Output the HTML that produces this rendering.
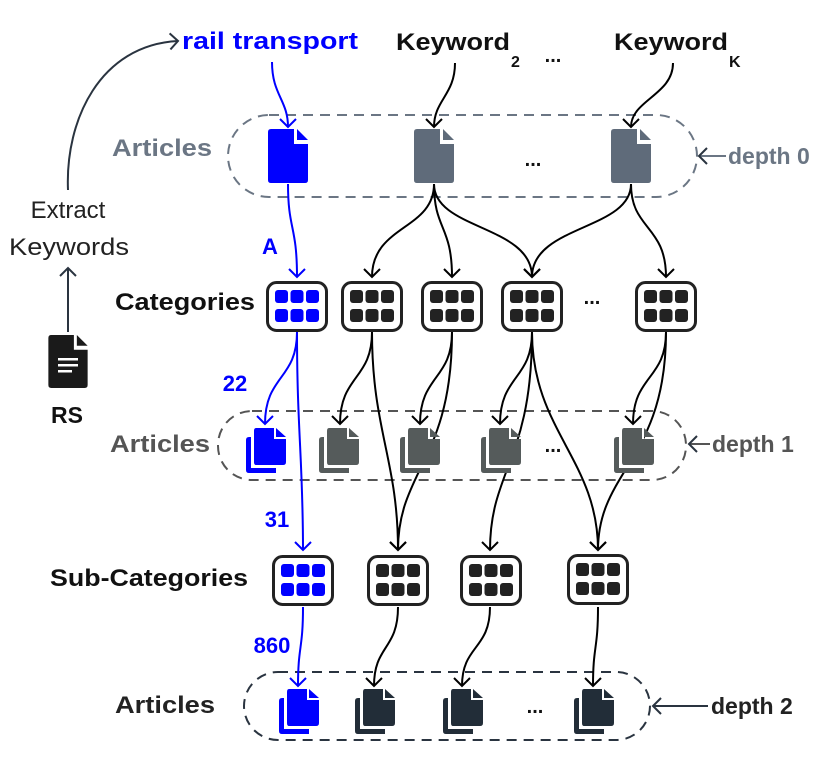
<!DOCTYPE html>
<html><head><meta charset="utf-8"><style>
html,body{margin:0;padding:0;background:#fff;}
svg{display:block;}
text{font-family:"Liberation Sans",sans-serif;font-weight:bold;}
</style></head><body>
<svg width="830" height="774" viewBox="0 0 830 774" xmlns="http://www.w3.org/2000/svg">
<defs>
<marker id="ak" markerUnits="userSpaceOnUse" markerWidth="20" markerHeight="20" refX="10" refY="10" orient="auto" viewBox="0 0 20 20"><path d="M2,2 L10,10 L2,18" fill="none" stroke="#000" stroke-width="2"/></marker>
<marker id="ab" markerUnits="userSpaceOnUse" markerWidth="20" markerHeight="20" refX="10" refY="10" orient="auto" viewBox="0 0 20 20"><path d="M2,2 L10,10 L2,18" fill="none" stroke="#0000ff" stroke-width="2"/></marker>
<marker id="ag" markerUnits="userSpaceOnUse" markerWidth="20" markerHeight="20" refX="10" refY="10" orient="auto" viewBox="0 0 20 20"><path d="M2,2 L10,10 L2,18" fill="none" stroke="#2a3440" stroke-width="2"/></marker>
<symbol id="doc" viewBox="0 0 40 54"><path d="M3,0 H26 V15 H40 V51 Q40,54 37,54 H3 Q0,54 0,51 V3 Q0,0 3,0 Z"/><path d="M29,0 L40,11 H29 Z"/></symbol>
<symbol id="sdoc" viewBox="0 0 40 45"><path d="M3,9 H30 V45 H3 Q0,45 0,42 V12 Q0,9 3,9 Z"/><path d="M7,-1 H30 V13 H42 V40 H5 V-1 Z" fill="#fff"/><path d="M10,0 H28 V11 H40 V34 Q40,37 37,37 H10 Q8,37 8,34 V3 Q8,0 10,0 Z"/><path d="M30,0 L40,9 H30 Z"/></symbol>
<symbol id="grid" viewBox="0 0 62 51"><rect x="1.5" y="1.5" width="59" height="48" rx="9" fill="#fff" stroke="#222" stroke-width="3"/><rect x="9" y="9" width="13" height="13" rx="3"/><rect x="24.5" y="9" width="13" height="13" rx="3"/><rect x="40" y="9" width="13" height="13" rx="3"/><rect x="9" y="28" width="13" height="13" rx="3"/><rect x="24.5" y="28" width="13" height="13" rx="3"/><rect x="40" y="28" width="13" height="13" rx="3"/></symbol>
</defs>

<rect x="228" y="115" width="469" height="82" rx="41" fill="none" stroke="#6b7684" stroke-width="2" stroke-dasharray="10,7"/>
<rect x="218" y="411" width="468" height="69" rx="34" fill="none" stroke="#555" stroke-width="2" stroke-dasharray="10,7"/>
<rect x="244" y="672" width="406" height="68" rx="34" fill="none" stroke="#2a3440" stroke-width="2" stroke-dasharray="10,7"/>

<text x="182" y="49" font-size="24" fill="#0000ff" textLength="176" lengthAdjust="spacingAndGlyphs">rail transport</text>
<text x="396" y="50" font-size="24" fill="#111" textLength="114" lengthAdjust="spacingAndGlyphs">Keyword</text>
<text x="511" y="67" font-size="16" fill="#111">2</text>
<text x="553" y="62" font-size="20" fill="#111" text-anchor="middle">...</text>
<text x="614" y="50" font-size="24" fill="#111" textLength="114" lengthAdjust="spacingAndGlyphs">Keyword</text>
<text x="729" y="67" font-size="16" fill="#111">K</text>

<text x="68" y="218" font-size="24" fill="#222" text-anchor="middle" style="font-weight:normal">Extract</text>
<text x="69" y="255" font-size="24" fill="#222" text-anchor="middle" style="font-weight:normal" textLength="120" lengthAdjust="spacingAndGlyphs">Keywords</text>
<path d="M68,190 C65,120 100,45 178,41" fill="none" stroke="#2a3440" stroke-width="2" marker-end="url(#ag)"/>
<path d="M68,332 V268" fill="none" stroke="#2a3440" stroke-width="2" marker-end="url(#ag)"/>
<use href="#doc" x="48" y="335" width="40" height="53" fill="#1a1a1a"/>
<rect x="58" y="358" width="20" height="2.5" fill="#fff"/><rect x="58" y="364" width="20" height="2.5" fill="#fff"/><rect x="58" y="370" width="14" height="2.5" fill="#fff"/>
<text x="67" y="423" font-size="23" fill="#111" text-anchor="middle">RS</text>

<text x="112" y="156" font-size="24" fill="#6b7684" textLength="100" lengthAdjust="spacingAndGlyphs">Articles</text>
<text x="115" y="310" font-size="24" fill="#111" textLength="140" lengthAdjust="spacingAndGlyphs">Categories</text>
<text x="110" y="452" font-size="24" fill="#555" textLength="100" lengthAdjust="spacingAndGlyphs">Articles</text>
<text x="50" y="586" font-size="24" fill="#111" textLength="198" lengthAdjust="spacingAndGlyphs">Sub-Categories</text>
<text x="115" y="713" font-size="24" fill="#222" textLength="100" lengthAdjust="spacingAndGlyphs">Articles</text>

<path d="M726,156 H699" fill="none" stroke="#6b7684" stroke-width="2" marker-end="url(#ag)"/>
<text x="728" y="164" font-size="23" fill="#6b7684">depth 0</text>
<path d="M710,444 H689" fill="none" stroke="#555" stroke-width="2" marker-end="url(#ag)"/>
<text x="712" y="452" font-size="23" fill="#555">depth 1</text>
<path d="M708,706 H653" fill="none" stroke="#2a3440" stroke-width="2" marker-end="url(#ag)"/>
<text x="711" y="714" font-size="23" fill="#222">depth 2</text>

<g fill="none" stroke="#000" stroke-width="2" marker-end="url(#ak)">
<path d="M455,63 C455,95 434,100 434,127"/>
<path d="M673,63 C673,95 631,100 631,127"/>
<path d="M434,184 C434,230 372,225 372,277"/>
<path d="M434,184 C434,230 452,225 452,277"/>
<path d="M434,184 C434,230 532,225 532,277"/>
<path d="M631,184 C631,230 532,225 532,277"/>
<path d="M631,184 C631,230 666,225 666,277"/>
<path d="M372,332 C372,380 340,375 340,424"/>
<path d="M452,332 C452,380 420,375 420,424"/>
<path d="M532,332 C532,380 500,375 500,424"/>
<path d="M666,332 C666,380 633,375 633,424"/>
<path d="M372,332 C372,430 398,460 398,550"/>
<path d="M452,332 C452,460 398,470 398,550"/>
<path d="M532,332 C532,460 490,470 490,550"/>
<path d="M532,332 C532,430 598,460 598,550"/>
<path d="M666,332 C666,460 598,470 598,550"/>
<path d="M398,607 C398,650 374,645 374,686"/>
<path d="M490,607 C490,650 462,645 462,686"/>
<path d="M598,607 C598,650 593,645 593,686"/>
</g>
<g fill="none" stroke="#0000ff" stroke-width="2" marker-end="url(#ab)">
<path d="M272,62 C272,95 288,100 288,127"/>
<path d="M288,184 C288,230 297,225 297,277"/>
<path d="M297,332 C297,380 265,375 265,424"/>
<path d="M297,332 C297,430 303,460 303,550"/>
<path d="M303,607 C303,650 298,645 298,686"/>
</g>
<text x="270" y="254" font-size="22" fill="#0000ff" text-anchor="middle">A</text>
<text x="235" y="391" font-size="22" fill="#0000ff" text-anchor="middle">22</text>
<text x="277" y="527" font-size="22" fill="#0000ff" text-anchor="middle">31</text>
<text x="272" y="653" font-size="22" fill="#0000ff" text-anchor="middle">860</text>

<use href="#doc" x="268" y="129" width="40" height="54" fill="#0000ff"/>
<use href="#doc" x="414" y="129" width="40" height="54" fill="#5f6b7a"/>
<use href="#doc" x="611" y="129" width="40" height="54" fill="#5f6b7a"/>
<text x="533" y="166" font-size="20" fill="#111" text-anchor="middle">...</text>

<use href="#grid" x="266" y="281" width="62" height="51" fill="#0000ff"/>
<use href="#grid" x="341" y="281" width="62" height="51" fill="#222"/>
<use href="#grid" x="421" y="281" width="62" height="51" fill="#222"/>
<use href="#grid" x="501" y="281" width="62" height="51" fill="#222"/>
<use href="#grid" x="635" y="281" width="62" height="51" fill="#222"/>
<text x="592" y="304" font-size="20" fill="#111" text-anchor="middle">...</text>

<use href="#sdoc" x="246" y="428" width="40" height="45" fill="#0000ff"/>
<use href="#sdoc" x="319" y="428" width="40" height="45" fill="#555b5b"/>
<use href="#sdoc" x="400" y="428" width="40" height="45" fill="#555b5b"/>
<use href="#sdoc" x="481" y="428" width="40" height="45" fill="#555b5b"/>
<use href="#sdoc" x="614" y="428" width="40" height="45" fill="#555b5b"/>
<text x="553" y="452" font-size="20" fill="#111" text-anchor="middle">...</text>

<use href="#grid" x="272" y="555" width="62" height="51" fill="#0000ff"/>
<use href="#grid" x="367" y="555" width="62" height="51" fill="#222"/>
<use href="#grid" x="460" y="555" width="62" height="51" fill="#222"/>
<use href="#grid" x="567" y="554" width="62" height="51" fill="#222"/>

<use href="#sdoc" x="279" y="689" width="40" height="45" fill="#0000ff"/>
<use href="#sdoc" x="355" y="689" width="40" height="45" fill="#222d38"/>
<use href="#sdoc" x="443" y="689" width="40" height="45" fill="#222d38"/>
<use href="#sdoc" x="574" y="689" width="40" height="45" fill="#222d38"/>
<text x="535" y="713" font-size="20" fill="#111" text-anchor="middle">...</text>
</svg>
</body></html>
